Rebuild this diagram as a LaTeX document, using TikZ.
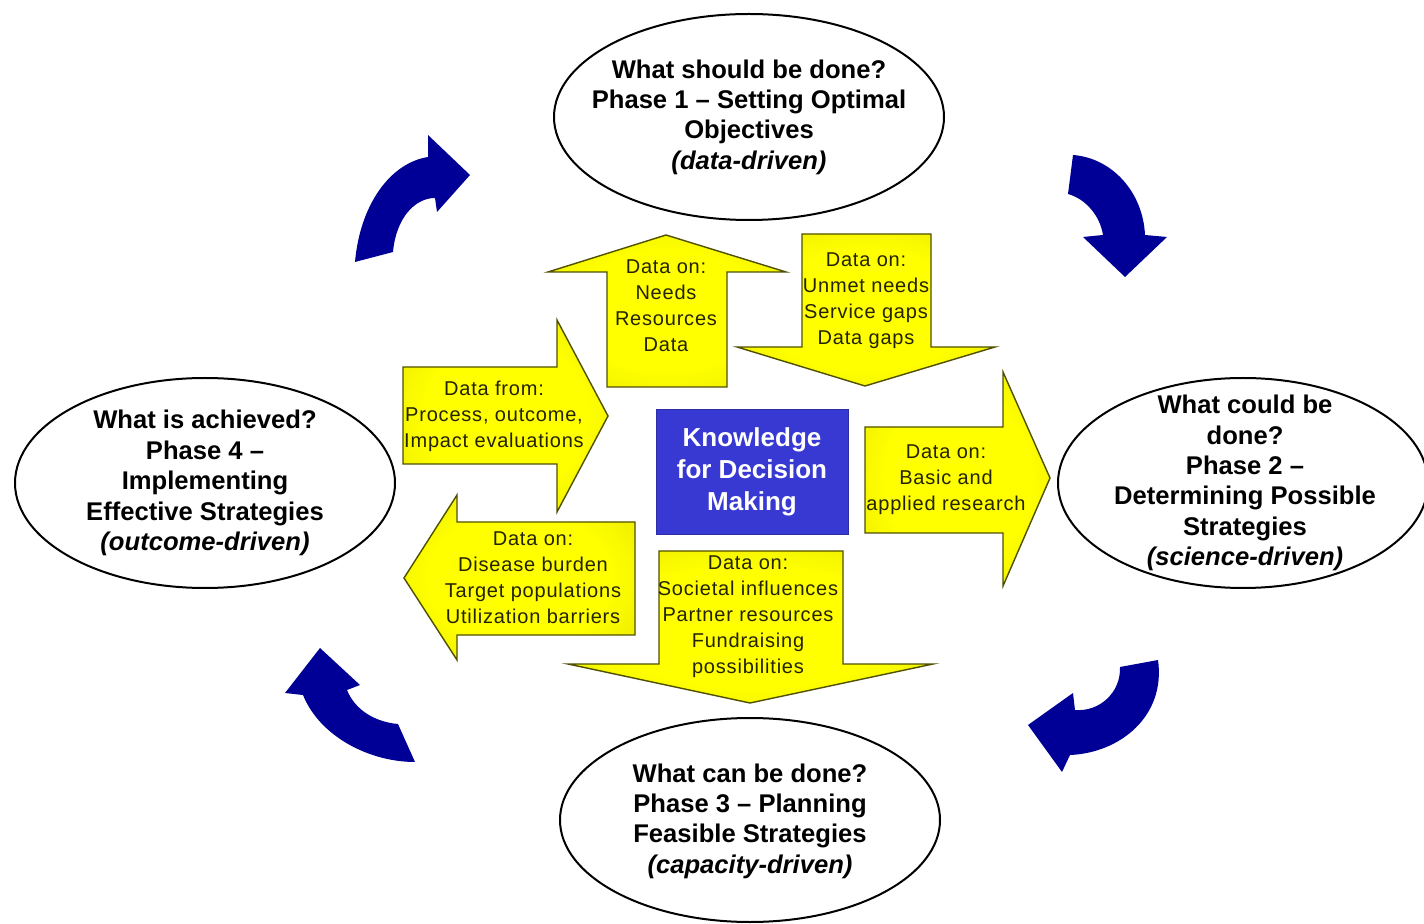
\documentclass[tikz,border=0pt]{standalone}
\usepackage{fontspec}
\setmainfont{Liberation Sans}
\newfontfamily\arrowfont[LetterSpace=4]{Liberation Sans}
\usetikzlibrary{shapes.geometric}
\definecolor{cyclenavy}{RGB}{0,0,150}
\definecolor{boxblue}{RGB}{56,56,210}
\definecolor{yel}{RGB}{255,255,0}
\definecolor{yelmid}{RGB}{235,235,0}
\definecolor{yeldark}{RGB}{160,160,0}
\definecolor{yeledge}{RGB}{80,80,0}
\definecolor{yeltext}{RGB}{35,35,0}
\pgfdeclareradialshading{yshade}{\pgfpoint{0bp}{0bp}}{color(0bp)=(yel); color(20bp)=(yel); color(33bp)=(yelmid); color(50bp)=(yeldark)}
\tikzset{
  phase/.style={draw=black, line width=1pt, ellipse, fill=white, inner sep=0pt},
  phasetext/.style={align=center, font=\bfseries\fontsize{12.8}{15.2}\selectfont, inner sep=0pt},
  yarrow/.style={shading=yshade, draw=yeledge, line width=0.7pt, line join=miter},
  yartext/.style={align=center, text=yeltext, font=\arrowfont\fontsize{10}{13}\selectfont, inner sep=0pt},
  knowbox/.style={fill=boxblue, draw=boxblue!80!black, line width=0.4pt, minimum width=96pt, minimum height=62.5pt, align=center, text=white, font=\bfseries\fontsize{13}{16}\selectfont},
  cyc/.style={fill=cyclenavy}
}
\begin{document}
\begin{tikzpicture}[x=0.5pt,y=-0.5pt]
\useasboundingbox[fill=white] (0,0) rectangle (1424,924);

% phase ellipses
\node[phase, minimum width=195pt, minimum height=103pt] (p1) at (749,117) {};
\node[phasetext] (p1t) at (p1) {What should be done?\\Phase 1 – Setting Optimal\\Objectives\\{\itshape (data-driven)}};

\node[phase, minimum width=185pt, minimum height=105pt] (p2) at (1243,483) {};
\node[phasetext] (p2t) at (1245,483) {What could be\\done?\\Phase 2 –\\Determining Possible\\Strategies\\{\itshape (science-driven)}};

\node[phase, minimum width=190pt, minimum height=102pt] (p3) at (750,820) {};
\node[phasetext] (p3t) at (750,821) {What can be done?\\Phase 3 – Planning\\Feasible Strategies\\{\itshape (capacity-driven)}};

\node[phase, minimum width=190pt, minimum height=105pt] (p4) at (205,483) {};
\node[phasetext] (p4t) at (205,483) {What is achieved?\\Phase 4 –\\Implementing\\Effective Strategies\\{\itshape (outcome-driven)}};

% yellow arrows
\shadedraw[yarrow] (607,387) -- (607,272) -- (548,272) -- (666,235) -- (786,272) -- (727,272) -- (727,387) -- cycle;
\node[yartext] (a1) at (666,306) {Data on:\\Needs\\Resources\\Data};

\shadedraw[yarrow] (802,234) -- (931,234) -- (931,347) -- (995,347) -- (865,386) -- (737,347) -- (802,347) -- cycle;
\node[yartext] (a2) at (866,301) {Data on:\\Unmet needs\\Service gaps\\Data gaps};

\shadedraw[yarrow] (403,367) -- (557,367) -- (557,320) -- (608,416) -- (557,512) -- (557,464) -- (403,464) -- cycle;
\node[yartext] (a3) at (494,416) {Data from:\\Process, outcome,\\Impact evaluations};

\shadedraw[yarrow] (635,522) -- (457,522) -- (457,495) -- (404,578) -- (457,660) -- (457,635) -- (635,635) -- cycle;
\node[yartext] (a4) at (533,578) {Data on:\\Disease burden\\Target populations\\Utilization barriers};

\shadedraw[yarrow] (659,551) -- (843,551) -- (843,664) -- (933,664) -- (750,703) -- (568,664) -- (659,664) -- cycle;
\node[yartext] (a5) at (748,617) {Data on:\\Societal influences\\Partner resources\\Fundraising\\possibilities};

\shadedraw[yarrow] (865,427) -- (1003,427) -- (1003,372) -- (1050,478) -- (1003,586) -- (1003,533) -- (865,533) -- cycle;
\node[yartext] (a6) at (946,480) {Data on:\\Basic and\\applied research};

% central box
\node[knowbox] (kdm) at (752,472) {Knowledge\\for Decision\\Making};

% curved cycle arrows
\fill[cyc] (355,262) .. controls (360,205) and (390,163) .. (428,157) -- (428,135) -- (470,175) -- (437,212) -- (435,198) .. controls (415,198) and (396,218) .. (393,252) -- cycle;
\fill[cyc] (1073,155) .. controls (1112,158) and (1143,192) .. (1145,235) -- (1167,237) -- (1125,277) -- (1083,237) -- (1103,235) .. controls (1100,216) and (1086,199) .. (1068,194) -- cycle;
\fill[cyc] (1158,660) .. controls (1166,716) and (1120,753) .. (1070,755) -- (1062,772) -- (1028,725) -- (1073,693) -- (1075,710) .. controls (1100,712) and (1121,692) .. (1120,667) -- cycle;
\fill[cyc] (415,762) .. controls (370,762) and (320,737) .. (303,695) -- (285,693) -- (320,648) -- (360,685) -- (347,690) .. controls (355,710) and (375,722) .. (398,724) -- cycle;
\end{tikzpicture}
\end{document}
